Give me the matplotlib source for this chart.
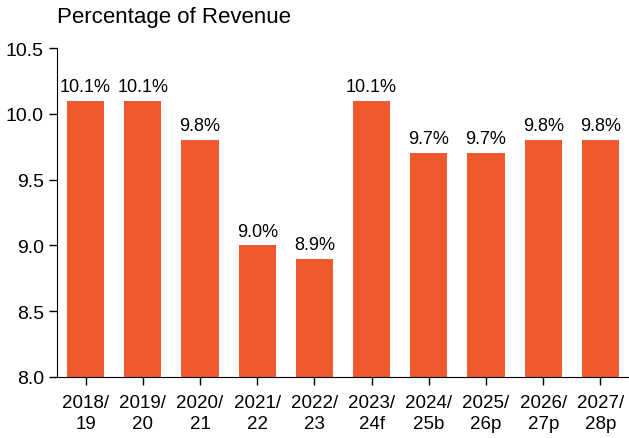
import matplotlib
matplotlib.use("Agg")
import matplotlib.pyplot as plt

plt.rcParams['font.family'] = ['Liberation Sans', 'DejaVu Sans']

years = ["2018/\n19", "2019/\n20", "2020/\n21", "2021/\n22", "2022/\n23",
         "2023/\n24f", "2024/\n25b", "2025/\n26p", "2026/\n27p", "2027/\n28p"]
values = [10.1, 10.1, 9.8, 9.0, 8.9, 10.1, 9.7, 9.7, 9.8, 9.8]
yticks = [8.0, 8.5, 9.0, 9.5, 10.0, 10.5]

fig = plt.figure(figsize=(6.29, 4.39), dpi=100)
ax = fig.add_axes([0.0906, 0.139, 0.9094, 0.749])

x = range(len(values))
ax.bar(x, values, width=0.65, color="#EE5A2D")
for xi, v in zip(x, values):
    ax.text(xi, v + 0.045, f"{v:.1f}%", ha="center", va="bottom", fontsize=13)

ax.set_xlim(-0.5, len(values) - 0.5)
ax.set_ylim(8.0, 10.5)
ax.set_yticks(yticks)
ax.set_yticklabels([f"{t:.1f}" for t in yticks], fontsize=14)
ax.set_xticks(list(x))
ax.set_xticklabels(years, fontsize=13.5, linespacing=1.3)
ax.spines['top'].set_visible(False)
ax.spines['right'].set_visible(False)
ax.tick_params(direction='out', length=6, width=1)
ax.tick_params(axis='x', pad=6)

fig.text(0.0906, 0.959, "Percentage of Revenue", fontsize=16, ha="left", va="center")

fig.savefig("out.png", dpi=100)
